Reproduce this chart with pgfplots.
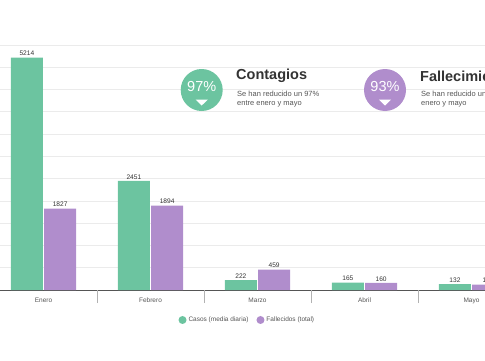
\documentclass[border=0pt]{standalone}
\usepackage{pgfplots}
\pgfplotsset{compat=1.18}
\usepackage{fontspec}
\setmainfont{Liberation Sans}
\definecolor{cgreen}{HTML}{6CC4A0}
\definecolor{cpurple}{HTML}{B08DCC}
\definecolor{gridc}{HTML}{EBEBEB}
\definecolor{txtd}{HTML}{333333}
\definecolor{txtm}{HTML}{555555}
\begin{document}
\begin{tikzpicture}[x=1pt,y=1pt]
\useasboundingbox (0,0) rectangle (485,360);
\clip (0,0) rectangle (485,360);
\begin{axis}[
  at={(0pt,70pt)}, anchor=south west,
  scale only axis, width=485pt, height=245pt,
  xmin=-0.4065, xmax=4.126, ymin=0, ymax=5500,
  enlargelimits=false,
  ybar, bar width=32pt,
  axis x line*=bottom, axis y line*=left,
  y axis line style={draw=none},
  x axis line style={draw=txtm, line width=0.8pt, -},
  ytick={0,500,...,5500}, yticklabels={},
  major y tick style={draw=none},
  ymajorgrids, major grid style={draw=gridc, line width=0.8pt},
  xtick={0,1,2,3,4},
  xticklabels={Enero,Febrero,Marzo,Abril,Mayo},
  major x tick style={draw=none},
  x tick label style={font=\fontsize{6.5}{7}\selectfont, text=txtm},
  extra x ticks={0.5,1.5,2.5,3.5},
  extra x tick labels={},
  extra x tick style={tick align=outside, major tick length=13pt,
     major x tick style={draw=gray!60, line width=0.8pt}, grid=none},
  /pgf/number format/assume math mode=true,
  /pgf/number format/1000 sep={},
  nodes near coords,
  every node near coord/.append style={font=\fontsize{6.6}{7}\selectfont, text=txtd, inner sep=1.5pt},
  legend columns=2,
  legend style={at={(0.51,-0.1224)}, anchor=center, draw=none, fill=none,
     font=\fontsize{6.5}{7}\selectfont, text=txtm,
     /tikz/every even column/.append style={column sep=6pt}},
  legend image code/.code={\fill (0.1cm,0cm) circle (4pt);},
]
\addplot[fill=cgreen, draw=none, bar shift=-16.6pt] coordinates {(0,5214) (1,2451) (2,222) (3,165) (4,132)};
\addplot[fill=cpurple, draw=none, bar shift=16.6pt] coordinates {(0,1827) (1,1894) (2,459) (3,160) (4,120)};
\legend{Casos (media diaria), Fallecidos (total)}
\end{axis}
% annotation: Contagios
\fill[cgreen] (201.7,270) circle (21);
\node[text=white, font=\fontsize{14.5}{15}\selectfont] at (201.7,273) {97\%};
\fill[white] (195.5,260.5) -- (207.9,260.5) -- (201.7,254.5) -- cycle;
\node[anchor=west, inner sep=0, text=txtd, font=\fontsize{14.5}{15}\selectfont\bfseries] at (236,284) {Contagios};
\node[anchor=west, inner sep=0, text=txtm, font=\fontsize{7.5}{8}\selectfont] at (237,266.5) {Se han reducido un 97\%};
\node[anchor=west, inner sep=0, text=txtm, font=\fontsize{7.5}{8}\selectfont] at (237,256) {entre enero y mayo};
% annotation: Fallecimientos
\fill[cpurple] (385,270) circle (21);
\node[text=white, font=\fontsize{14.5}{15}\selectfont] at (385,273) {93\%};
\fill[white] (378.8,260.5) -- (391.2,260.5) -- (385,254.5) -- cycle;
\node[anchor=west, inner sep=0, text=txtd, font=\fontsize{14.5}{15}\selectfont\bfseries] at (420,284) {Fallecimientos};
\node[anchor=west, inner sep=0, text=txtm, font=\fontsize{7.5}{8}\selectfont] at (421,266.5) {Se han reducido un 93\% entre};
\node[anchor=west, inner sep=0, text=txtm, font=\fontsize{7.5}{8}\selectfont] at (421,256) {enero y mayo};
\end{tikzpicture}
\end{document}
